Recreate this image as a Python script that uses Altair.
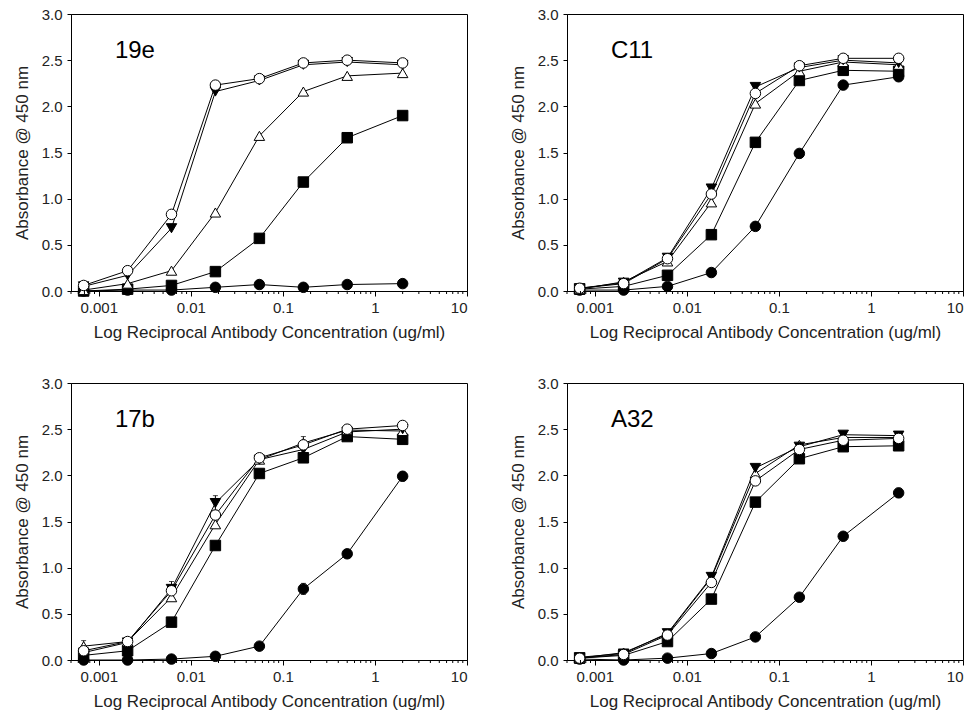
import altair as alt
import pandas as pd

# Concentrations (ug/ml)
conc = [0.000686, 0.00206, 0.00617, 0.0185, 0.0556, 0.167, 0.5, 2.0]

series_names = ["open circle", "filled inverted triangle", "open triangle", "filled square", "filled circle"]
series_shapes = ["circle", "triangle-down", "triangle-up", "square", "circle"]
series_fills = ["white", "black", "white", "black", "black"]

panel_names = ["19e", "C11", "17b", "A32"]

# Panel 19e
p19e_open_circle = [0.06, 0.22, 0.83, 2.23, 2.30, 2.47, 2.50, 2.47]
p19e_inv_triangle = [0.05, 0.17, 0.68, 2.16, 2.28, 2.45, 2.48, 2.45]
p19e_open_triangle = [0.01, 0.08, 0.22, 0.85, 1.68, 2.16, 2.33, 2.36]
p19e_square = [0.0, 0.02, 0.06, 0.21, 0.57, 1.18, 1.66, 1.90]
p19e_circle = [0.0, 0.01, 0.01, 0.04, 0.07, 0.04, 0.07, 0.08]

# Panel C11
pC11_open_circle = [0.03, 0.08, 0.35, 1.05, 2.14, 2.44, 2.52, 2.52]
pC11_inv_triangle = [0.03, 0.09, 0.36, 1.11, 2.21, 2.42, 2.50, 2.47]
pC11_open_triangle = [0.02, 0.10, 0.32, 0.96, 2.03, 2.38, 2.48, 2.45]
pC11_square = [0.02, 0.05, 0.17, 0.61, 1.61, 2.28, 2.39, 2.38]
pC11_circle = [0.01, 0.01, 0.05, 0.20, 0.70, 1.49, 2.23, 2.32]

# Panel 17b
p17b_open_circle = [0.10, 0.20, 0.75, 1.57, 2.19, 2.33, 2.50, 2.54]
p17b_inv_triangle = [0.08, 0.19, 0.77, 1.70, 2.17, 2.28, 2.47, 2.50]
p17b_open_triangle = [0.15, 0.20, 0.68, 1.47, 2.17, 2.35, 2.49, 2.48]
p17b_square = [0.05, 0.10, 0.41, 1.24, 2.02, 2.19, 2.42, 2.39]
p17b_circle = [0.0, 0.0, 0.01, 0.04, 0.15, 0.77, 1.15, 1.99]

# Panel A32
pA32_open_circle = [0.02, 0.06, 0.27, 0.84, 1.94, 2.28, 2.38, 2.40]
pA32_inv_triangle = [0.03, 0.07, 0.29, 0.90, 2.08, 2.31, 2.44, 2.43]
pA32_open_triangle = [0.02, 0.08, 0.28, 0.89, 2.02, 2.33, 2.41, 2.41]
pA32_square = [0.02, 0.05, 0.20, 0.66, 1.71, 2.18, 2.31, 2.32]
pA32_circle = [0.01, 0.0, 0.02, 0.07, 0.25, 0.68, 1.34, 1.81]

# Error bars (SEM), 17b and A32 panels
p17b_err_open_circle = [0, 0, 0.05, 0.05, 0, 0.05, 0, 0]
p17b_err_inv_triangle = [0, 0, 0.08, 0.08, 0, 0, 0, 0]
p17b_err_open_triangle = [0.06, 0.03, 0, 0, 0, 0.07, 0, 0]
p17b_err_circle = [0, 0, 0, 0, 0.03, 0.06, 0, 0.05]
pA32_err_inv_triangle = [0, 0, 0, 0, 0, 0, 0.03, 0]
pA32_err_circle = [0, 0, 0, 0, 0, 0, 0.03, 0.05]

zeros = [0] * len(conc)
panel_values = {
    "19e": [p19e_open_circle, p19e_inv_triangle, p19e_open_triangle, p19e_square, p19e_circle],
    "C11": [pC11_open_circle, pC11_inv_triangle, pC11_open_triangle, pC11_square, pC11_circle],
    "17b": [p17b_open_circle, p17b_inv_triangle, p17b_open_triangle, p17b_square, p17b_circle],
    "A32": [pA32_open_circle, pA32_inv_triangle, pA32_open_triangle, pA32_square, pA32_circle],
}
panel_errors = {
    "19e": [zeros] * 5,
    "C11": [zeros] * 5,
    "17b": [p17b_err_open_circle, p17b_err_inv_triangle, p17b_err_open_triangle, zeros, p17b_err_circle],
    "A32": [zeros, pA32_err_inv_triangle, zeros, zeros, pA32_err_circle],
}

rows = []
for p in panel_names:
    for si, s in enumerate(series_names):
        for xi, xv in enumerate(conc):
            yv = panel_values[p][si][xi]
            ev = panel_errors[p][si][xi]
            rows.append({"panel": p, "series": s, "order": si, "x": xv, "y": yv,
                         "lo": yv - ev, "hi": yv + ev, "err": ev})
df = pd.DataFrame(rows)

minor_ticks = [m * 10.0 ** k for k in range(-4, 1) for m in range(2, 10)]
minor_ticks = [v for v in minor_ticks if 0.0005 <= v <= 10]
minor_df = pd.DataFrame({"x": minor_ticks})

W, H = 396, 277
FONT = "Liberation Sans"

x_scale = alt.Scale(type="log", domain=[0.0005, 10], nice=False)
x_axis = alt.Axis(values=[0.001, 0.01, 0.1, 1, 10], format="~g", tickSize=5,
                  labelPadding=4, titlePadding=9)
y_scale = alt.Scale(domain=[0, 3], nice=False)
y_axis = alt.Axis(values=[0, 0.5, 1.0, 1.5, 2.0, 2.5, 3.0], format=".1f", tickSize=4,
                  labelPadding=5, titlePadding=10)

X_TITLE = "Log Reciprocal Antibody Concentration (ug/ml)"
Y_TITLE = "Absorbance @ 450 nm"


def enc_x(field="x"):
    return alt.X(f"{field}:Q", scale=x_scale, axis=x_axis, title=X_TITLE)


def enc_y(field="y"):
    return alt.Y(f"{field}:Q", scale=y_scale, axis=y_axis, title=Y_TITLE)


def panel(name):
    base = alt.Chart(df).transform_filter(alt.datum.panel == name)
    lines = base.mark_line(color="black", strokeWidth=1).encode(
        x=enc_x(), y=enc_y(), detail="series:N", order="x:Q")
    errs = base.transform_filter(alt.datum.err > 0).mark_errorbar(
        ticks=True, color="black").encode(
        x=enc_x(), y=alt.Y("lo:Q", scale=y_scale, axis=y_axis, title=Y_TITLE), y2="hi:Q")
    pts = base.mark_point(stroke="black", strokeWidth=1, opacity=1, size=110).encode(
        x=enc_x(), y=enc_y(),
        shape=alt.Shape("series:N", scale=alt.Scale(domain=series_names, range=series_shapes), legend=None),
        fill=alt.Fill("series:N", scale=alt.Scale(domain=series_names, range=series_fills), legend=None),
        order=alt.Order("order:Q", sort="descending"),
    )
    minors = alt.Chart(minor_df).mark_rule(color="black", strokeWidth=1).encode(
        x=enc_x(), y=alt.value(H), y2=alt.value(H + 3))
    label = alt.Chart(pd.DataFrame({"x": [0.0015], "y": [2.6], "t": [name]})).mark_text(
        align="left", baseline="middle", fontSize=24, font=FONT, color="black").encode(
        x=enc_x(), y=enc_y(), text="t:N")
    return alt.layer(lines, errs, pts, minors, label).properties(width=W, height=H)


top = alt.hconcat(panel("19e"), panel("C11"), spacing=40)
bottom = alt.hconcat(panel("17b"), panel("A32"), spacing=40)
chart = alt.vconcat(top, bottom, spacing=34).properties(
    padding={"left": 12, "top": 6, "right": 2, "bottom": 2}
).configure_view(stroke="black", strokeWidth=1).configure_axis(
    domainColor="black", tickColor="black", labelColor="#222", titleColor="#222",
    labelFont=FONT, titleFont=FONT, labelFontSize=15, titleFontSize=17,
    titleFontWeight="normal", grid=False
)

chart.save("out.html", embed_options={"renderer": "svg", "actions": False})
